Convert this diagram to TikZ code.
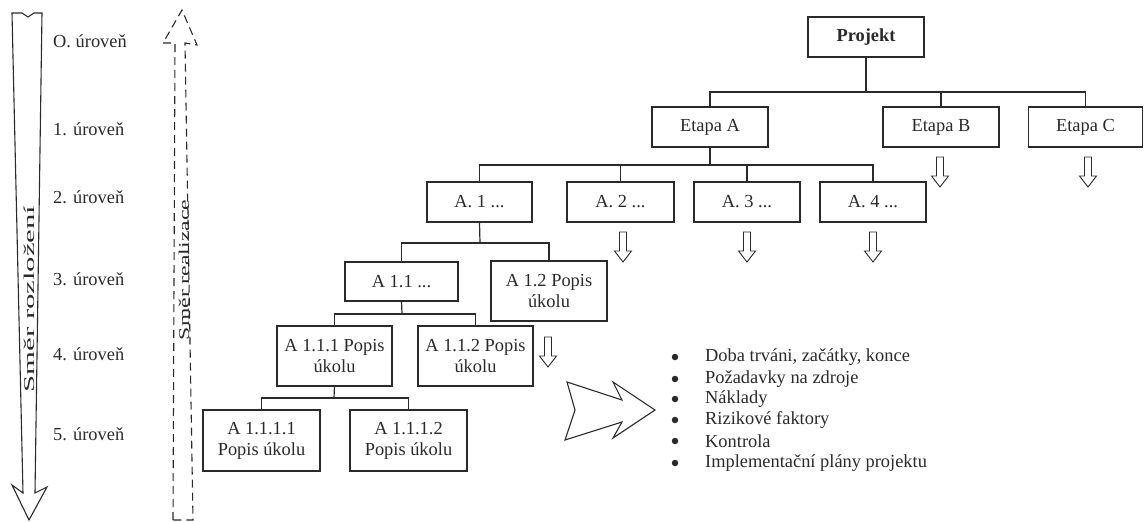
\documentclass[tikz,border=0pt]{standalone}
\usepackage{fontspec}
\setmainfont{Liberation Serif}
\usepackage{graphicx}
\usetikzlibrary{calc}
\definecolor{inkc}{HTML}{2A2A2A}
\begin{document}
\begin{tikzpicture}[x=1pt,y=-1pt,
  ink/.style={draw=inkc, line width=1.1pt},
  wire/.style={draw=inkc, line width=1.2pt},
  txt/.style={text=inkc, font=\fontsize{18.4}{21}\selectfont, inner sep=0pt},
  box/.style={ink, fill=white, inner sep=0pt, outer sep=0pt, align=center, txt},
  lvl/.style={txt, anchor=west},
  item/.style={txt, anchor=west},
  dot/.style={circle, fill=inkc, minimum size=6.5pt, inner sep=0pt},
  dnarrow/.pic={\draw[draw=inkc, line width=0.9pt, line join=miter]
      (-3.5,0) -- (-3.5,19) -- (-8.5,19) -- (0,30) -- (8.5,19) -- (3.5,19) -- (3.5,0) -- cycle;}
]
\useasboundingbox (0,0) rectangle (1144,522);

% --- direction arrows on the left ---
\draw[ink, line join=miter]
  (12,13) -- (22,13) -- (28,17) -- (34,13) -- (42,13) -- (35,493) -- (47,487)
  -- (29,520) -- (12,485) -- (23,493) -- cycle;
\node[txt, rotate=90] (rozl) at (29,299)
  {\fontsize{15}{15}\selectfont\scalebox{2.05}[1]{Směr rozložení}};

\draw[ink, dash pattern=on 8pt off 5pt, line join=miter]
  (173,520) -- (175,43) -- (163,43) -- (182,10) -- (197,45) -- (185,43) -- (193,520) -- cycle;
\node[txt, rotate=90] (real) at (184,270)
  {\fontsize{15}{15}\selectfont\scalebox{1.58}[1]{Směr realizace}};

% --- level labels ---
\node[lvl] (L0) at (53,41)  {O. úroveň};
\node[lvl] (L1) at (53,129) {1. úroveň};
\node[lvl] (L2) at (53,197) {2. úroveň};
\node[lvl] (L3) at (53,279) {3. úroveň};
\node[lvl] (L4) at (53,354) {4. úroveň};
\node[lvl] (L5) at (53,434) {5. úroveň};

% --- breakdown tree ---
\node[box, minimum width=116pt, minimum height=40pt, font=\fontsize{18.4}{21}\selectfont\bfseries] (P) at (866,37) {Projekt};
\node[box, minimum width=116pt, minimum height=40pt] (EA) at (710,127) {Etapa A};
\node[box, minimum width=116pt, minimum height=40pt] (EB) at (941,127) {Etapa B};
\node[box, minimum width=114pt, minimum height=40pt] (EC) at (1085.5,127) {Etapa C};

\node[box, minimum width=105pt, minimum height=40pt] (A1) at (479.5,202) {A. 1 ...};
\node[box, minimum width=107pt, minimum height=40pt] (A2) at (620.5,202) {A. 2 ...};
\node[box, minimum width=106pt, minimum height=40pt] (A3) at (747,202) {A. 3 ...};
\node[box, minimum width=106pt, minimum height=40pt] (A4) at (873,202) {A. 4 ...};

\node[box, minimum width=113pt, minimum height=39pt] (A11) at (401.5,281.5) {A 1.1 ...};
\node[box, minimum width=116pt, minimum height=60pt] (A12) at (549,291) {A 1.2 Popis\\úkolu};

\node[box, minimum width=115pt, minimum height=60pt] (A111) at (334.5,356) {A 1.1.1 Popis\\úkolu};
\node[box, minimum width=115pt, minimum height=60pt] (A112) at (475.5,356) {A 1.1.2 Popis\\úkolu};

\node[box, minimum width=117pt, minimum height=61pt] (A1111) at (261.5,440.5) {A 1.1.1.1\\Popis úkolu};
\node[box, minimum width=117pt, minimum height=61pt] (A1112) at (408.5,440.5) {A 1.1.1.2\\Popis úkolu};

% --- connectors ---
\coordinate (b0) at (866,92);
\draw[wire, line width=1.8pt] (P.south) -- (b0);
\draw[wire] (EA.north) -- (EA.north |- b0) -- (EC.north |- b0) -- (EC.north);
\draw[wire] (EB.north) -- (EB.north |- b0);

\coordinate (b1) at (710,165);
\draw[wire] (EA.south) -- (b1);
\draw[wire] (A1.north) -- (A1.north |- b1) -- (A4.north |- b1) -- (A4.north);
\draw[wire] (A2.north) -- (A2.north |- b1);
\draw[wire] (A3.north) -- (A3.north |- b1);

\coordinate (b2) at (480,243);
\draw[wire] (A1.south) -- (b2);
\draw[wire] (A11.north) -- (A11.north |- b2) -- (A12.north |- b2) -- (A12.north);

\coordinate (b3) at (402,314);
\draw[wire] (A11.south) -- (b3);
\draw[wire] (A111.north) -- (A111.north |- b3) -- (A112.north |- b3) -- (A112.north);

\coordinate (b4) at (334,398);
\draw[wire] (A111.south) -- (b4);
\draw[wire] (A1111.north) -- (A1111.north |- b4) -- (A1112.north |- b4) -- (A1112.north);

% --- continuation marks ---
\pic at ($(EB.south)+(-1,10)$) {dnarrow};
\pic at ($(EC.south)+(2.5,10)$) {dnarrow};
\pic at ($(A2.south)+(2.5,10)$) {dnarrow};
\pic at ($(A3.south)+(0,10)$) {dnarrow};
\pic at ($(A4.south)+(0,10)$) {dnarrow};
\pic at ($(A112.east)+(15,-19)$) {dnarrow};

% --- big arrow and outputs ---
\draw[ink, line join=miter] (567,382) -- (622,400) -- (613,382) -- (655,410) -- (613,438)
  -- (622,422) -- (565,440) -- (575,410) -- cycle;

\foreach \i/\yy/\t in {1/357/{Doba trváni, začátky, konce},
                       2/379/{Požadavky na zdroje},
                       3/399/{Náklady},
                       4/420/{Rizikové faktory},
                       5/441/{Kontrola},
                       6/463/{Implementační plány projektu}} {
  \node[dot] (dot\i) at (675,\yy) {};
  \node[item] (it\i) at (705,\yy) {\t};
}
\end{tikzpicture}
\end{document}
